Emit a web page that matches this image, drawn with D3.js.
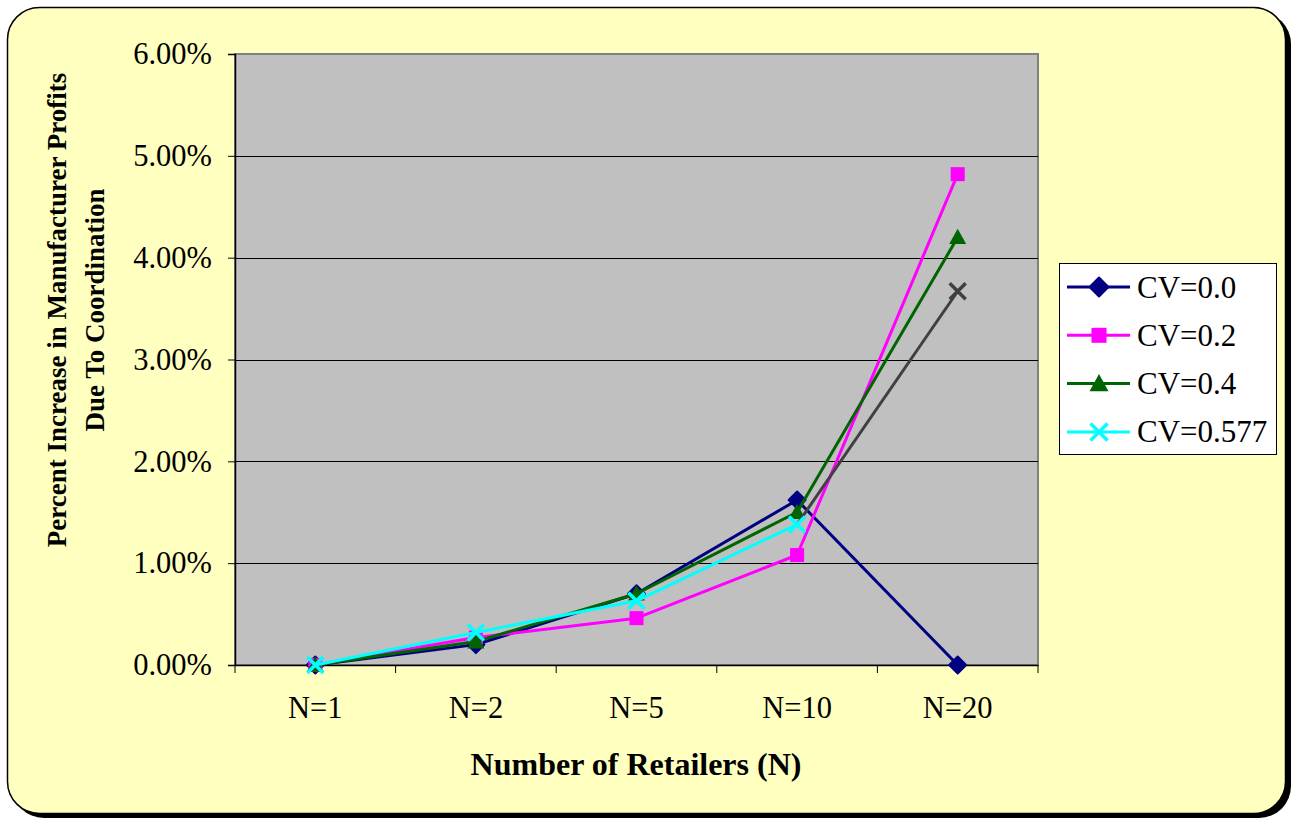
<!DOCTYPE html>
<html>
<head>
<meta charset="utf-8">
<script src="https://cdn.jsdelivr.net/npm/d3@7"></script>
<style>
  html, body { margin: 0; padding: 0; background: #ffffff; }
  svg { display: block; }
  text { font-family: "Liberation Serif", "Times New Roman", serif; }
</style>
</head>
<body>
<svg id="chart" width="1293" height="819"></svg>
<script>
// ---------------- data ----------------
const categories = ["N=1", "N=2", "N=5", "N=10", "N=20"];
const seriesNames = ["CV=0.0", "CV=0.2", "CV=0.4", "CV=0.577"];
const cv00 = [0.00, 0.20, 0.70, 1.62, 0.00];
const cv02 = [0.00, 0.27, 0.46, 1.08, 4.82];
const cv04 = [0.00, 0.23, 0.70, 1.50, 4.20];
const cv0577 = [0.00, 0.32, 0.63, 1.38, 3.67];
const yTicks = [0, 1, 2, 3, 4, 5, 6];
const xTitle = "Number of Retailers (N)";
const yTitleLines = ["Percent Increase in Manufacturer Profits", "Due To Coordination"];

// ---------------- styles ----------------
const colors = ["#000080", "#FF00FF", "#006400", "#00FFFF"];
const shapes = ["diamond", "square", "triangle", "cross"];
const lastSegColor = "#404040"; // final segment of CV=0.577 rendered grey in source

const series = seriesNames.map((name, i) => ({
  name, values: [cv00, cv02, cv04, cv0577][i], color: colors[i], shape: shapes[i]
}));

const svg = d3.select("#chart");

// panel with shadow
svg.append("rect").attr("x", 12).attr("y", 12).attr("width", 1279).attr("height", 806)
  .attr("rx", 32).attr("fill", "#000");
svg.append("rect").attr("x", 7.5).attr("y", 7.5).attr("width", 1278).attr("height", 806)
  .attr("rx", 32).attr("fill", "#FFFFC0").attr("stroke", "#000").attr("stroke-width", 1.5);

const plot = { left: 235, right: 1038, top: 54, bottom: 665 };

const x = d3.scaleBand().domain(categories).range([plot.left, plot.right]);
const y = d3.scaleLinear().domain([0, 6]).range([plot.bottom, plot.top]);
const cx = c => x(c) + x.bandwidth() / 2;

// plot area
svg.append("rect").attr("x", plot.left).attr("y", plot.top)
  .attr("width", plot.right - plot.left).attr("height", plot.bottom - plot.top)
  .attr("fill", "#C0C0C0").attr("stroke", "#808080").attr("stroke-width", 2);

// gridlines
svg.append("g").selectAll("line").data(yTicks.filter(d => d > 0 && d < 6)).join("line")
  .attr("x1", plot.left).attr("x2", plot.right)
  .attr("y1", d => Math.round(y(d)) + 0.5).attr("y2", d => Math.round(y(d)) + 0.5)
  .attr("stroke", "#000").attr("stroke-width", 1);

// y axis
const yAxis = svg.append("g").attr("transform", `translate(${plot.left},0)`)
  .call(d3.axisLeft(y).tickValues(yTicks).tickFormat(d => d.toFixed(2) + "%")
    .tickSize(7).tickPadding(16));
yAxis.select(".domain").attr("stroke", "#000").attr("stroke-width", 1.5);
yAxis.selectAll(".tick line").attr("stroke", "#000");
yAxis.selectAll("text").attr("font-size", 30.5).attr("fill", "#000")
  .style("font-family", "'Liberation Serif', 'Times New Roman', serif");

// x axis (labels at centers, ticks at boundaries)
const xAxis = svg.append("g").attr("transform", `translate(0,${plot.bottom})`)
  .call(d3.axisBottom(x).tickSize(0).tickPadding(31));
xAxis.select(".domain").attr("stroke", "#000").attr("stroke-width", 1.5);
xAxis.selectAll("text").attr("font-size", 30.5).attr("fill", "#000")
  .style("font-family", "'Liberation Serif', 'Times New Roman', serif");
const boundaries = categories.map(c => x(c)).concat([x.range()[1]]);
svg.append("g").selectAll("line").data(boundaries).join("line")
  .attr("x1", d => d).attr("x2", d => d)
  .attr("y1", plot.bottom).attr("y2", plot.bottom + 8)
  .attr("stroke", "#000").attr("stroke-width", 1);

// titles
svg.append("text").attr("x", 636).attr("y", 775).attr("text-anchor", "middle")
  .attr("font-size", 32).attr("font-weight", "bold").text(xTitle);
const yT = [66, 104];
yTitleLines.forEach((t, i) => {
  svg.append("text").attr("transform", `translate(${yT[i]},310) rotate(-90)`)
    .attr("text-anchor", "middle").attr("font-size", 27).attr("font-weight", "bold").text(t);
});

function drawMarker(g, shape, color, px, py, sz) {
  if (shape === "diamond") {
    const h = sz / 2;
    g.append("path").attr("d", `M${px},${py - h}L${px + h},${py}L${px},${py + h}L${px - h},${py}Z`)
      .attr("fill", color).attr("stroke", color).attr("stroke-width", 2).attr("stroke-linejoin", "round");
  } else if (shape === "square") {
    const h = sz / 2 - 0.5;
    g.append("rect").attr("x", px - h).attr("y", py - h).attr("width", 2 * h).attr("height", 2 * h)
      .attr("fill", color);
  } else if (shape === "triangle") {
    const h = sz / 2;
    g.append("path").attr("d", `M${px},${py - h}L${px + h},${py + h * 0.8}L${px - h},${py + h * 0.8}Z`)
      .attr("fill", color);
  } else if (shape === "cross") {
    const h = sz / 2 - 1;
    g.append("path").attr("d", `M${px - h},${py - h}L${px + h},${py + h}M${px - h},${py + h}L${px + h},${py - h}`)
      .attr("stroke", color).attr("stroke-width", 3.5).attr("fill", "none");
  }
}

// series
const line = d3.line().x(d => cx(d.c)).y(d => y(d.v));
series.forEach((s, si) => {
  const g = svg.append("g");
  const pts = categories.map((c, i) => ({ c, v: s.values[i] }));
  const isLast = si === 3;
  const main = isLast ? pts.slice(0, 4) : pts;
  g.append("path").attr("d", line(main)).attr("fill", "none")
    .attr("stroke", s.color).attr("stroke-width", 3).attr("stroke-linejoin", "round");
  if (isLast) {
    g.append("path").attr("d", line(pts.slice(3))).attr("fill", "none")
      .attr("stroke", lastSegColor).attr("stroke-width", 3);
  }
  pts.forEach((p, i) => {
    const col = (isLast && i === 4) ? lastSegColor : s.color;
    const sz = s.shape === "square" ? 15 : (s.shape === "cross" ? 18 : 17);
    drawMarker(g, s.shape, col, cx(p.c), y(p.v), sz);
  });
});

// legend
const lg = svg.append("g");
lg.append("rect").attr("x", 1059.5).attr("y", 263.5).attr("width", 217).attr("height", 191)
  .attr("fill", "#fff").attr("stroke", "#000").attr("stroke-width", 1);
series.forEach((s, i) => {
  const ry = 287 + i * 48.3;
  lg.append("line").attr("x1", 1067).attr("x2", 1130).attr("y1", ry).attr("y2", ry)
    .attr("stroke", s.color).attr("stroke-width", 3);
  const sz = s.shape === "square" ? 16 : 19;
  drawMarker(lg, s.shape, s.color, 1099, ry, sz);
  lg.append("text").attr("x", 1137).attr("y", ry + 10.5).attr("font-size", 31).text(s.name);
});
</script>
</body>
</html>
